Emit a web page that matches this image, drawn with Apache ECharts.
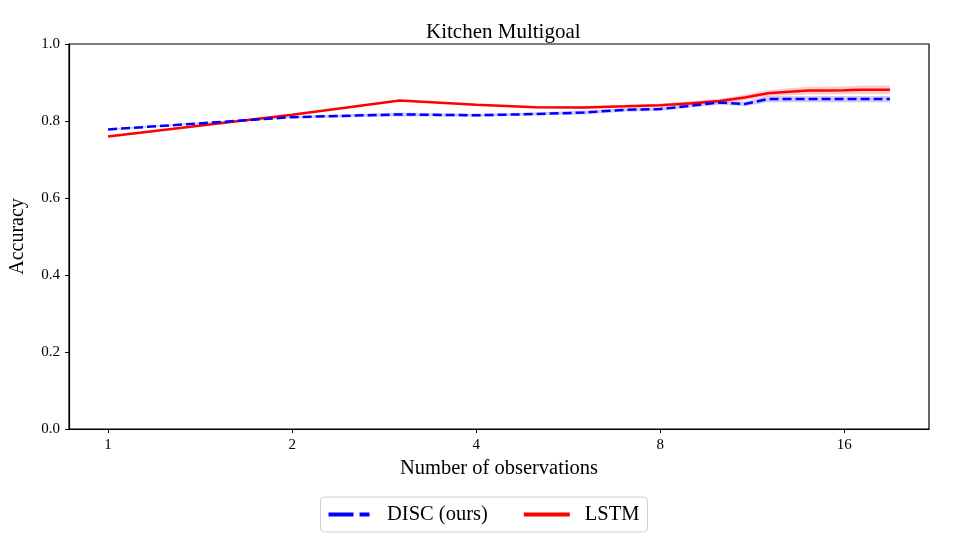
<!DOCTYPE html>
<html>
<head>
<meta charset="utf-8">
<script src="https://cdn.jsdelivr.net/npm/echarts@6/dist/echarts.min.js"></script>
<style>html,body{margin:0;padding:0;background:#fff}#c{width:968px;height:558px}</style>
</head>
<body>
<div id="c"></div>
<script>
const observations = [1,2,3,4,5,6,7,8,9,10,11,12,13,14,15,16,17,18,19];
const discMean = [0.778,0.810,0.817,0.815,0.818,0.822,0.829,0.831,0.840,0.848,0.844,0.857,0.857,0.857,0.857,0.857,0.857,0.857,0.857];
const discErr  = [0.002,0.003,0.005,0.004,0.004,0.005,0.005,0.005,0.005,0.006,0.006,0.008,0.008,0.008,0.008,0.008,0.008,0.008,0.008];
const lstmMean = [0.760,0.816,0.853,0.842,0.836,0.835,0.838,0.841,0.846,0.852,0.861,0.872,0.876,0.879,0.879,0.880,0.881,0.881,0.881];
const lstmErr  = [0.002,0.002,0.002,0.002,0.002,0.003,0.003,0.004,0.005,0.006,0.007,0.008,0.009,0.010,0.010,0.010,0.011,0.011,0.011];
const xTicks = [1,2,4,8,16];

const lx = observations.map(n => Math.log2(n));
const span = lx[lx.length-1] - lx[0];
const xMin = lx[0] - 0.05*span, xMax = lx[lx.length-1] + 0.05*span;

function band(mean, err, color, name) {
  const upper = mean.map((m,i)=>[lx[i], m+err[i]]);
  const lower = mean.map((m,i)=>[lx[i], m-err[i]]).reverse();
  const pts = upper.concat(lower);
  return {
    type: 'custom', name: name, silent: true, z: 1,
    data: [0],
    renderItem: function(params, api) {
      return { type: 'polygon', shape: { points: pts.map(p => api.coord(p)) }, style: { fill: color } };
    },
    clip: true
  };
}
const F = 'Liberation Serif';
const chart = echarts.init(document.getElementById('c'));
chart.setOption({
  animation: false,
  title: { text: 'Kitchen Multigoal', left: 421, top: 17, textStyle: { fontFamily: F, fontWeight: 'normal', fontSize: 21, color: '#000' } },
  grid: { left: 67, right: 39, top: 44, bottom: 129, show: true, borderColor: '#000', borderWidth: 1.2, backgroundColor: 'transparent' },
  xAxis: {
    type: 'value', min: xMin, max: xMax,
    name: 'Number of observations', nameLocation: 'middle', nameGap: 28,
    nameTextStyle: { fontFamily: F, fontSize: 20.5, color: '#000' },
    axisLine: { show: true, onZero: false, lineStyle: { color: '#000', width: 1.2 } },
    axisTick: { show: true, length: 4, lineStyle: { color: '#000' }, customValues: xTicks.map(v=>Math.log2(v)) },
    axisLabel: { customValues: xTicks.map(v=>Math.log2(v)), formatter: v => String(Math.round(Math.pow(2, v))), fontFamily: F, fontSize: 15, color: '#000', margin: 9 },
    splitLine: { show: false }
  },
  yAxis: {
    type: 'value', min: 0, max: 1, interval: 0.2,
    name: 'Accuracy', nameLocation: 'middle', nameGap: 41, nameRotate: 90,
    nameTextStyle: { fontFamily: F, fontSize: 20, color: '#000' },
    axisLine: { show: true, onZero: false, lineStyle: { color: '#000', width: 1.2 } },
    axisTick: { show: true, length: 4, lineStyle: { color: '#000' } },
    axisLabel: { formatter: v => v.toFixed(1), fontFamily: F, fontSize: 15, color: '#000', margin: 9 },
    splitLine: { show: false }
  },
  legend: {
    bottom: 26, left: 'center',
    data: [
      { name: 'DISC (ours)', icon: 'path://M0,0H25V4H0Z M31,0H41V4H31Z' },
      { name: 'LSTM', icon: 'path://M0,0H46V4H0Z' }
    ],
    itemWidth: 46, itemHeight: 4, itemGap: 36,
    textStyle: { fontFamily: F, fontSize: 20.5, color: '#000', padding: [0, 0, 0, 10] },
    borderColor: '#d0d0d0', borderWidth: 1, borderRadius: 4, padding: [7, 8, 7, 8]
  },
  series: [
    band(discMean, discErr, 'rgba(0,0,255,0.2)', 'discBand'),
    band(lstmMean, lstmErr, 'rgba(255,0,0,0.2)', 'lstmBand'),
    { name: 'DISC (ours)', type: 'line', data: discMean.map((m,i)=>[lx[i], m]), symbol: 'none', z: 3,
      lineStyle: { color: '#0000ff', width: 2.5, type: [9, 4] }, itemStyle: { color: '#0000ff' } },
    { name: 'LSTM', type: 'line', data: lstmMean.map((m,i)=>[lx[i], m]), symbol: 'none', z: 2,
      lineStyle: { color: '#ff0000', width: 2.5 }, itemStyle: { color: '#ff0000' } }
  ]
});
</script>
</body>
</html>
